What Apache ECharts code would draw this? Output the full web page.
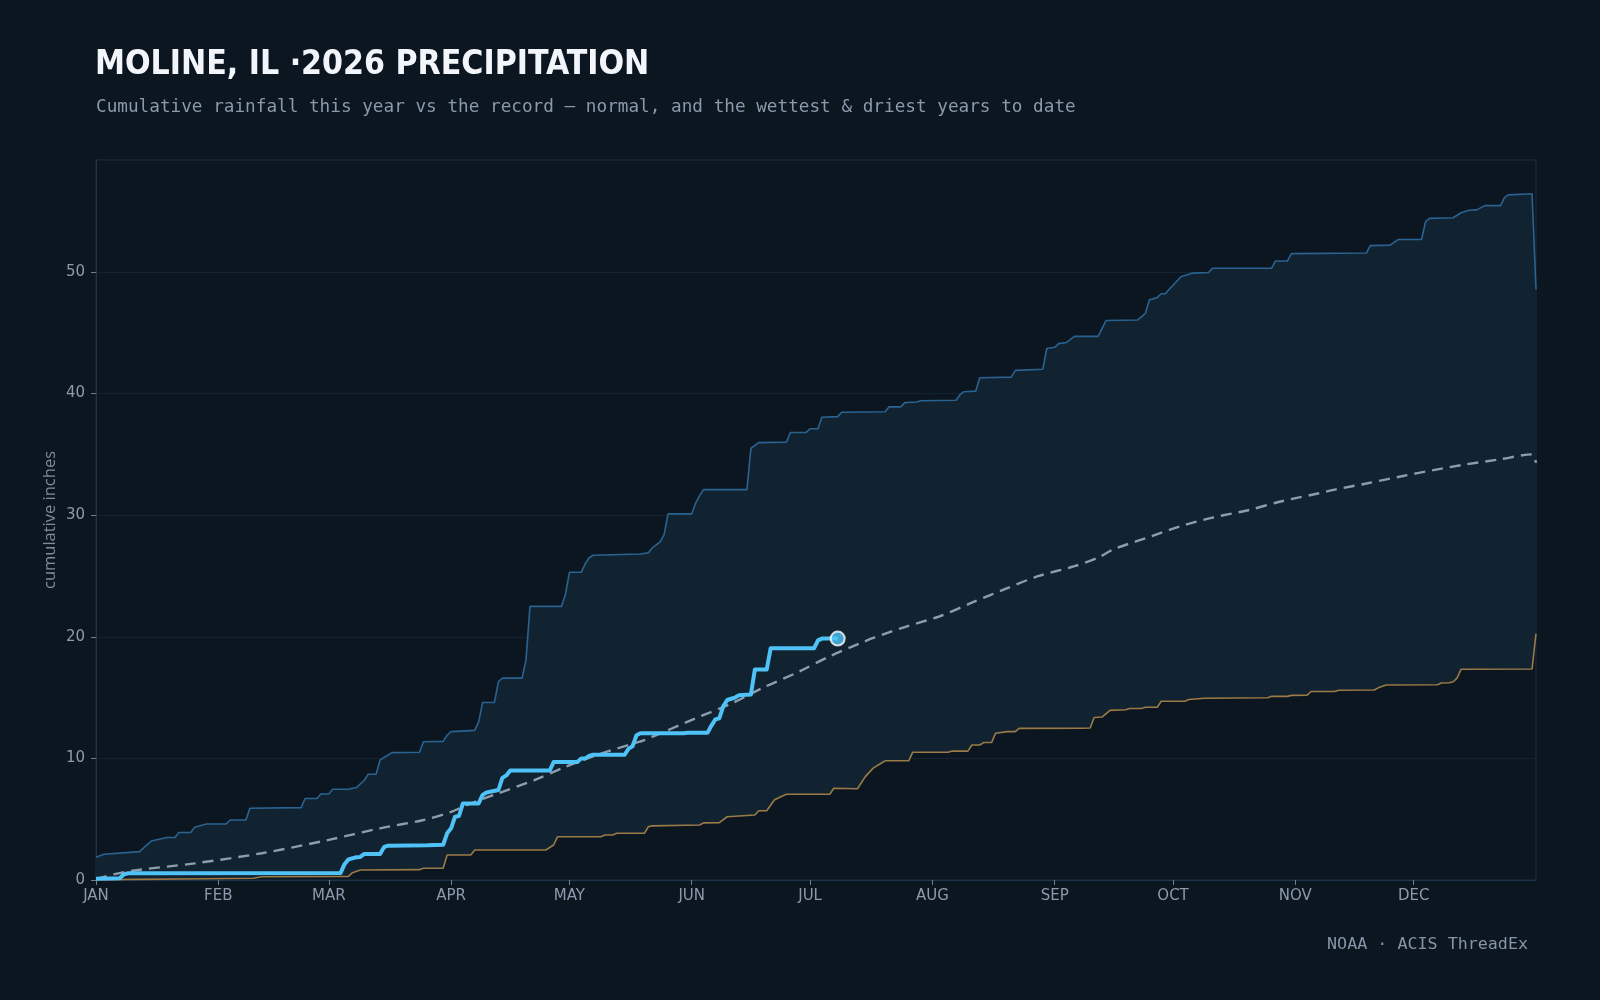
<!DOCTYPE html>
<html>
<head>
<meta charset="utf-8">
<title>Moline precipitation</title>
<script src="https://cdn.jsdelivr.net/npm/echarts@6/dist/echarts.min.js"></script>
<style>
  html, body { margin: 0; padding: 0; background: #0c1620; }
  #chart { width: 1600px; height: 1000px; }
</style>
</head>
<body>
<div id="chart"></div>
<script>
// day of year (0 = Jan 1), cumulative inches
const MONTH_STARTS = [0, 31, 59, 90, 120, 151, 181, 212, 243, 273, 304, 334];
const MONTH_LABELS = ['JAN','FEB','MAR','APR','MAY','JUN','JUL','AUG','SEP','OCT','NOV','DEC'];
const Y_TICKS = [0, 10, 20, 30, 40, 50];

const WETTEST = [[0,1.87],[2,2.12],[11,2.33],[14,3.2],[16,3.35],[18,3.5],[20,3.5],[21,3.9],[24,3.9],[25,4.33],[28,4.6],[33,4.6],[34,4.93],[38,4.93],[39,5.9],[52,5.95],[53,6.7],[56,6.7],[57,7.07],[59,7.07],[60,7.46],[64,7.46],[66,7.6],[68,8.2],[69,8.7],[71,8.7],[72,9.87],[75,10.47],[82,10.5],[83,11.37],[88,11.4],[89,11.9],[90,12.2],[96,12.3],[97,13.0],[98,14.6],[101,14.6],[102,16.3],[103,16.6],[108,16.6],[109,18.1],[110,22.5],[118,22.5],[119,23.5],[120,25.3],[123,25.3],[124,26.0],[125,26.5],[126,26.7],[138,26.8],[140,26.9],[141,27.3],[143,27.8],[144,28.4],[145,30.1],[151,30.1],[152,31.0],[153,31.6],[154,32.1],[165,32.1],[166,35.5],[168,35.96],[175,36.0],[176,36.8],[180,36.8],[181,37.1],[183,37.1],[184,38.05],[188,38.1],[189,38.46],[200,38.5],[201,38.9],[204,38.9],[205,39.25],[208,39.3],[209,39.4],[218,39.45],[219,39.9],[220,40.15],[223,40.2],[224,41.3],[232,41.35],[233,41.9],[240,42.0],[241,43.7],[243,43.8],[244,44.1],[246,44.2],[248,44.7],[254,44.7],[256,46.0],[264,46.05],[265,46.3],[266,46.6],[267,47.7],[269,47.9],[270,48.2],[271,48.2],[273,48.9],[275,49.6],[277,49.8],[278,49.9],[282,49.95],[283,50.3],[298,50.3],[299,50.9],[302,50.9],[303,51.5],[322,51.55],[323,52.16],[328,52.2],[330,52.66],[336,52.66],[337,54.13],[338,54.4],[344,54.45],[346,54.86],[348,55.07],[350,55.1],[352,55.45],[356,55.45],[357,56.1],[358,56.33],[364,56.42],[365,48.55]];

const DRIEST = [[0,0],[10,0.05],[28,0.1],[40,0.14],[42,0.27],[64,0.3],[65,0.6],[67,0.82],[82,0.85],[83,0.96],[88,0.96],[89,2.06],[95,2.06],[96,2.47],[114,2.47],[116,2.88],[117,3.56],[128,3.56],[129,3.7],[131,3.7],[132,3.84],[139,3.84],[140,4.38],[141,4.45],[153,4.52],[154,4.7],[158,4.72],[160,5.2],[167,5.35],[168,5.7],[170,5.7],[172,6.6],[174,6.9],[175,7.05],[186,7.05],[187,7.54],[193,7.5],[195,8.5],[197,9.2],[199,9.6],[200,9.8],[206,9.8],[207,10.5],[216,10.5],[217,10.6],[221,10.6],[222,11.1],[224,11.1],[225,11.3],[227,11.3],[228,12.06],[231,12.2],[233,12.2],[234,12.47],[250,12.48],[252,12.5],[253,13.36],[255,13.4],[257,13.95],[261,14.0],[262,14.1],[265,14.1],[266,14.2],[269,14.2],[270,14.7],[276,14.7],[277,14.84],[281,14.95],[297,14.98],[298,15.1],[302,15.1],[303,15.18],[307,15.2],[308,15.5],[314,15.5],[315,15.6],[324,15.62],[325,15.8],[327,16.03],[340,16.05],[341,16.2],[343,16.22],[344,16.3],[345,16.6],[346,17.33],[364,17.35],[365,20.26]];

const NORMAL = [[0,0.1],[8,0.7],[25,1.37],[42,2.2],[59,3.3],[72,4.25],[83,4.93],[90,5.6],[94,6.17],[102,7.13],[111,8.2],[119,9.3],[128,10.4],[136,11.2],[139,11.5],[152,13.3],[161,14.5],[169,15.8],[178,17.1],[186,18.4],[194,19.5],[197,19.9],[205,20.8],[214,21.7],[222,22.8],[231,24.0],[239,25.0],[248,25.8],[254,26.5],[258,27.2],[266,28.1],[275,29.1],[283,29.8],[292,30.4],[300,31.1],[310,31.8],[314,32.1],[322,32.6],[331,33.2],[339,33.7],[347,34.16],[356,34.6],[364,35.0],[365,34.3]];

const THIS_YEAR = [[0,0.1],[6,0.14],[7,0.45],[8,0.55],[62,0.58],[63,1.3],[64,1.7],[66,1.87],[67,1.9],[68,2.14],[72,2.14],[73,2.7],[74,2.82],[84,2.85],[88,2.9],[89,3.84],[90,4.25],[91,5.2],[92,5.26],[93,6.3],[97,6.3],[98,7.0],[99,7.2],[102,7.4],[103,8.4],[104,8.6],[105,9.0],[115,9.0],[116,9.7],[122,9.7],[123,10.0],[124,10.0],[125,10.2],[126,10.3],[134,10.3],[135,10.8],[136,11.0],[137,11.9],[138,12.06],[149,12.06],[150,12.1],[155,12.1],[156,12.7],[157,13.2],[158,13.3],[159,14.3],[160,14.8],[161,14.9],[162,15.0],[163,15.2],[166,15.25],[167,17.3],[170,17.3],[171,19.05],[182,19.05],[183,19.7],[184,19.85],[188,19.85]];

const TITLE = 'MOLINE, IL ·2026 PRECIPITATION';
const SUBTITLE = 'Cumulative rainfall this year vs the record — normal, and the wettest & driest years to date';
const SOURCE = 'NOAA · ACIS ThreadEx';

const chart = echarts.init(document.getElementById('chart'));
const mono = '"DejaVu Sans Mono", "Liberation Mono", monospace';

const option = {
  backgroundColor: '#0c1620',
  animation: false,
  title: [
    { text: TITLE, left: 95, top: 48, padding: 0,
      textStyle: { color: '#f2f6fa', fontSize: 33.5, fontWeight: 'bold', fontFamily: '"DejaVu Sans Condensed", "DejaVu Sans", sans-serif' } },
    { text: SUBTITLE, left: 96, top: 98, padding: 0,
      textStyle: { color: '#8a9aab', fontSize: 17.7, fontWeight: 'normal', fontFamily: mono } },
    { text: SOURCE, right: 72, top: 936, padding: 0,
      textStyle: { color: '#8595a6', fontSize: 16.7, fontWeight: 'normal', fontFamily: mono } }
  ],
  grid: { left: 96, right: 64, top: 160, bottom: 120, containLabel: false,
    show: true, borderColor: '#1a2e42', borderWidth: 1, backgroundColor: 'transparent' },
  xAxis: {
    type: 'value', min: 0, max: 365,
    axisLine: { show: true, lineStyle: { color: '#1f3448' } },
    axisTick: { show: true, length: 5, lineStyle: { color: '#6f7f90' }, customValues: MONTH_STARTS },
    axisLabel: { color: '#8d9aab', fontSize: 15, margin: 9, fontFamily: '"DejaVu Sans", sans-serif',
      customValues: MONTH_STARTS,
      formatter: v => MONTH_LABELS[MONTH_STARTS.indexOf(v)] || '' },
    splitLine: { show: false }
  },
  yAxis: {
    type: 'value', min: 0, max: 59.2, interval: 10,
    name: 'cumulative inches', nameLocation: 'middle', nameGap: 37, nameMoveOverlap: false,
    nameTextStyle: { color: '#7d8d9e', fontSize: 16.5, fontFamily: '"Open Sans", "Noto Sans", sans-serif' },
    axisLine: { show: true, lineStyle: { color: '#1f3448' } },
    axisTick: { show: true, length: 5, lineStyle: { color: '#6f7f90' }, customValues: Y_TICKS },
    axisLabel: { color: '#8d9aab', fontSize: 15, margin: 11,
      fontFamily: '"DejaVu Sans", sans-serif', customValues: Y_TICKS },
    splitLine: { show: true, lineStyle: { color: '#13242f', width: 1 } }
  },
  series: [
    {
      name: 'record band', type: 'custom', silent: true, z: 1,
      data: [[0, 0]],
      renderItem: (params, api) => {
        const pts = WETTEST.map(p => api.coord(p))
          .concat(DRIEST.slice().reverse().map(p => api.coord(p)));
        return { type: 'polygon', shape: { points: pts }, style: { fill: '#112331' } };
      }
    },
    { name: 'wettest', type: 'line', data: WETTEST, symbol: 'none', z: 3,
      lineStyle: { color: '#2a6391', width: 1.6 } },
    { name: 'driest', type: 'line', data: DRIEST, symbol: 'none', z: 3,
      lineStyle: { color: '#9a7a46', width: 1.6 } },
    { name: 'normal', type: 'line', data: NORMAL, symbol: 'none', smooth: 0.3, z: 4,
      lineStyle: { color: '#8e9dac', width: 2.4, type: [11, 7] } },
    { name: '2026', type: 'line', data: THIS_YEAR, symbol: 'none', z: 5,
      lineStyle: { color: '#4fc3f7', width: 4, join: 'round' } },
    { name: 'today', type: 'scatter', data: [THIS_YEAR[THIS_YEAR.length - 1]], z: 6,
      symbol: 'circle', symbolSize: 14,
      itemStyle: { color: '#4fc3f7', borderColor: '#ffffff', borderWidth: 2 } }
  ]
};
chart.setOption(option);
</script>
</body>
</html>
